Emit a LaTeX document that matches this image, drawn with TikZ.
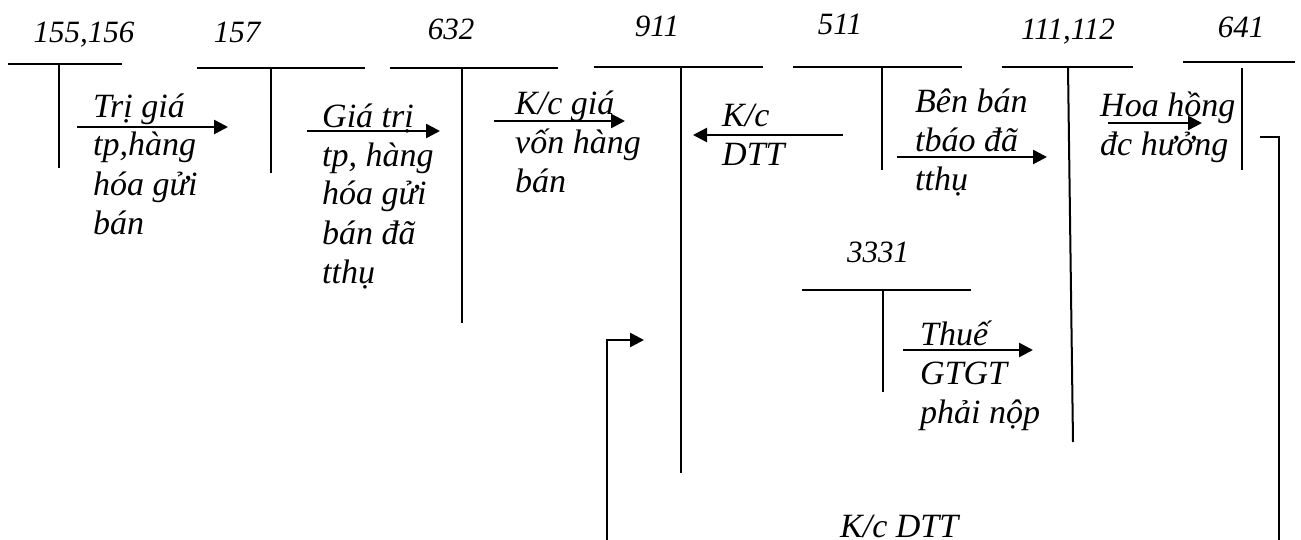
\documentclass[tikz,border=0pt]{standalone}
\usepackage{fontspec}
\setmainfont{Liberation Serif}
\usetikzlibrary{arrows.meta}
\begin{document}
\begin{tikzpicture}[x=1pt,y=-1pt,
  acct/.style={line width=2pt},
  flow/.style={line width=2.5pt,-{Triangle[length=14pt,width=14pt]}},
  hdr/.style={font=\fontsize{31}{36}\selectfont\itshape,inner sep=0pt,anchor=base},
  lbl/.style={font=\fontsize{34}{39}\selectfont\itshape,inner sep=0pt,anchor=base west,align=left},
  plain/.style={line width=2pt}]
\useasboundingbox (0,0) rectangle (1301,540);
% headers
\node[hdr] (h155) at (84,43) {155,156};
\node[hdr] (h157) at (237,43) {157};
\node[hdr] (h632) at (451,40) {632};
\node[hdr] (h911) at (657,37) {911};
\node[hdr] (h511) at (840,35) {511};
\node[hdr] (h111) at (1068,40) {111,112};
\node[hdr] (h641) at (1241,38) {641};
\node[hdr] (h3331) at (878,262) {3331};
% T accounts
\coordinate (a155l) at (8,64); \coordinate (a155r) at (122,64);
\coordinate (a155t) at (59,64); \coordinate (a155b) at (59,168);
\coordinate (a157l) at (197,68); \coordinate (a157r) at (365,68);
\coordinate (a157t) at (271,68); \coordinate (a157b) at (271,173);
\coordinate (a632l) at (390,68); \coordinate (a632r) at (558,68);
\coordinate (a632t) at (462,68); \coordinate (a632b) at (462,323);
\coordinate (a911l) at (594,67); \coordinate (a911r) at (763,67);
\coordinate (a911t) at (681,67); \coordinate (a911b) at (681,473);
\coordinate (a511l) at (793,67); \coordinate (a511r) at (962,67);
\coordinate (a511t) at (882,67); \coordinate (a511b) at (882,170);
\coordinate (a111l) at (1002,67); \coordinate (a111r) at (1133,67);
\coordinate (a111t) at (1068,67); \coordinate (a111b) at (1073,442);
\coordinate (a641l) at (1183,62); \coordinate (a641r) at (1295,62);
\coordinate (a641t) at (1242,68); \coordinate (a641b) at (1242,170);
\coordinate (a3331l) at (802,290); \coordinate (a3331r) at (971,290);
\coordinate (a3331t) at (883,290); \coordinate (a3331b) at (883,392);
\foreach \a in {155,157,632,911,511,111,641,3331}{
  \draw[acct] (a\a l) -- (a\a r);
  \draw[acct] (a\a t) -- (a\a b);
}
% labels (anchored at the baseline of their last line)
\node[lbl] (t1) at (93,234) {Trị giá\\tp,hàng\\hóa gửi\\bán};
\node[lbl] (t2) at (322,283) {Giá trị\\tp, hàng\\hóa gửi\\bán đã\\tthụ};
\node[lbl] (t3) at (515,193) {K/c giá\\vốn hàng\\bán};
\node[lbl] (t4) at (722,166) {K/c\\DTT};
\node[lbl] (t5) at (915,191) {Bên bán\\tbáo đã\\tthụ};
\node[lbl] (t6) at (1100,156) {Hoa hồng\\đc hưởng};
\node[lbl] (t7) at (920,423) {Thuế\\GTGT\\phải nộp};
\node[lbl] (t8) at (840,537) {K/c DTT};
% arrows
\coordinate (f1s) at (77,127);  \coordinate (f1e) at (228,127);
\coordinate (f2s) at (307,131); \coordinate (f2e) at (440,131);
\coordinate (f3s) at (494,121); \coordinate (f3e) at (625,121);
\coordinate (f4s) at (843,135); \coordinate (f4e) at (693,135);
\coordinate (f5s) at (897,157); \coordinate (f5e) at (1047,157);
\coordinate (f6s) at (1108,123); \coordinate (f6e) at (1202,123);
\coordinate (f7s) at (903,350); \coordinate (f7e) at (1033,350);
\foreach \i in {1,...,7}{ \draw[flow] (f\i s) -- (f\i e); }
\coordinate (b1s) at (607,540); \coordinate (b1e) at (644,340);
\draw[flow] (b1s) |- (b1e);
\coordinate (b2s) at (1260,137); \coordinate (b2c) at (1279,137); \coordinate (b2e) at (1279,540);
\draw[plain] (b2s) -- (b2c) -- (b2e);
\end{tikzpicture}
\end{document}
